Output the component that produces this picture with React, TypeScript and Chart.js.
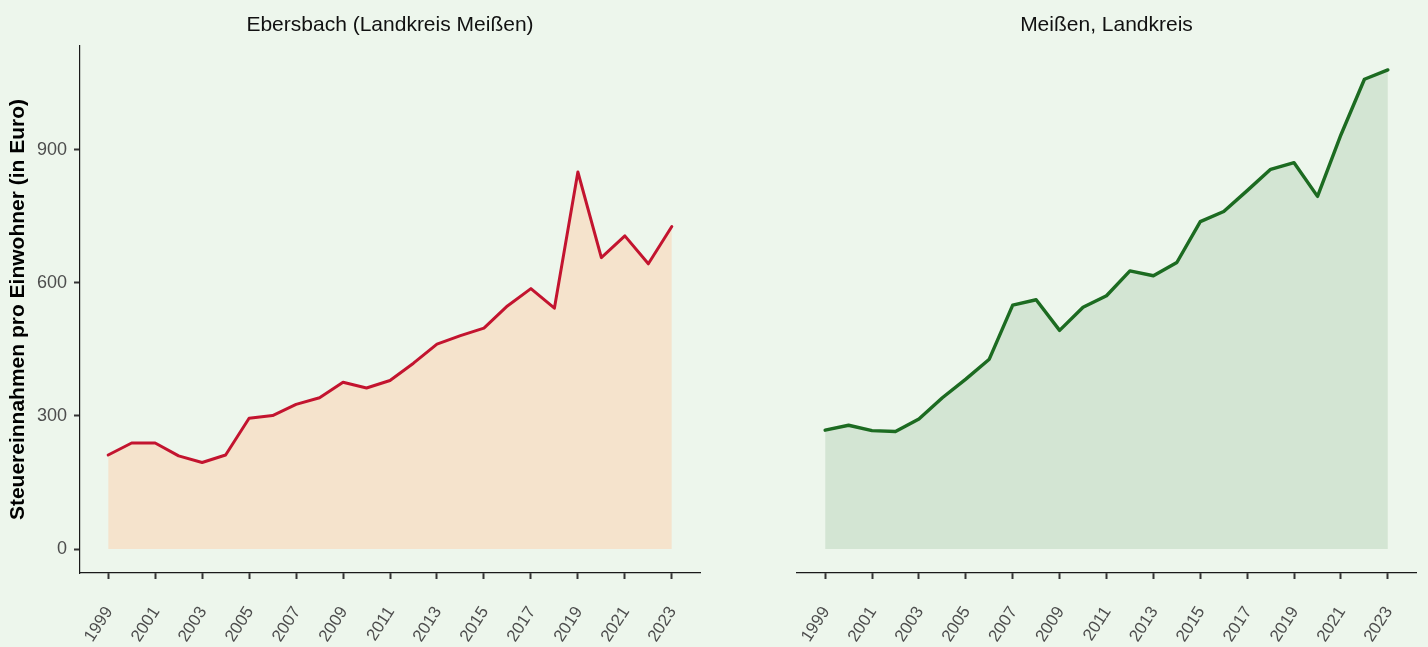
import React, { useEffect, useRef } from "react";
import { Chart, registerables } from "chart.js";

Chart.register(...registerables);

// ---------- data ----------
const years = [
  1999, 2000, 2001, 2002, 2003, 2004, 2005, 2006, 2007, 2008, 2009, 2010, 2011,
  2012, 2013, 2014, 2015, 2016, 2017, 2018, 2019, 2020, 2021, 2022, 2023,
];
const xTickLabels = [1999, 2001, 2003, 2005, 2007, 2009, 2011, 2013, 2015, 2017, 2019, 2021, 2023];
const yTickValues = [0, 300, 600, 900];

const ebersbachValues = [
  212, 239, 239, 210, 195, 212, 295, 301, 326, 341, 376, 363, 380, 419, 462, 481, 498, 548, 587,
  543, 850, 657, 706, 643, 727,
];
const meissenValues = [
  268, 279, 267, 265, 293, 341, 383, 428, 550, 562, 493, 545, 571, 627, 616, 646, 738, 761, 808,
  856, 871, 795, 934, 1059, 1080,
];

const leftTitle = "Ebersbach (Landkreis Meißen)";
const rightTitle = "Meißen, Landkreis";
const yAxisTitle = "Steuereinnahmen pro Einwohner (in Euro)";

// ---------- styling ----------
const BG = "#EDF6EC";
const FONT = "'Liberation Sans', Arial, Helvetica, sans-serif";
const X_MIN = 1997.8;
const X_MAX = 2024.2;
const Y_MIN = -54;
const Y_MAX = 1134;
const TOP_H = 46;
const BOTTOM_H = 74;
const Y_AXIS_W = 80;

type PanelOpts = {
  title: string;
  values: number[];
  line: string;
  lineWidth: number;
  fill: string;
  showY: boolean;
  padLeft: number;
  padRight: number;
};

function makeConfig(o: PanelOpts): any {
  return {
    type: "line",
    data: {
      datasets: [
        {
          xAxisID: "x",
          yAxisID: "y",
          data: years.map((y, i) => ({ x: y, y: o.values[i] })),
          borderColor: o.line,
          borderWidth: o.lineWidth,
          backgroundColor: o.fill,
          fill: "origin",
          pointRadius: 0,
          tension: 0,
          borderJoinStyle: "round",
          borderCapStyle: "round",
        },
      ],
    },
    options: {
      animation: false,
      responsive: false,
      devicePixelRatio: 1,
      layout: { padding: { left: o.padLeft, right: o.padRight, top: 0, bottom: 0 } },
      plugins: {
        legend: { display: false },
        tooltip: { enabled: false },
        title: { display: false },
      },
      scales: {
        x: {
          type: "linear",
          position: "bottom",
          min: X_MIN,
          max: X_MAX,
          afterBuildTicks: (s: any) => {
            s.ticks = xTickLabels.map((v) => ({ value: v }));
          },
          afterFit: (s: any) => {
            s.height = BOTTOM_H;
            s.paddingLeft = 0;
            s.paddingRight = 0;
          },
          ticks: {
            autoSkip: false,
            minRotation: 57,
            maxRotation: 57,
            padding: 24,
            labelOffset: 1,
            color: "#4D4D4D",
            font: { family: FONT, size: 17 },
            callback: (v: any) => String(v),
          },
          grid: {
            display: true,
            drawOnChartArea: false,
            drawTicks: true,
            tickLength: 6,
            tickWidth: 2,
            tickColor: "#333333",
          },
          border: { display: true, color: "#1A1A1A", width: 1.2 },
        },
        y: {
          type: "linear",
          position: "left",
          display: o.showY,
          min: Y_MIN,
          max: Y_MAX,
          afterBuildTicks: (s: any) => {
            s.ticks = yTickValues.map((v) => ({ value: v }));
          },
          afterFit: (s: any) => {
            s.width = o.showY ? Y_AXIS_W : 0;
            s.paddingTop = 0;
            s.paddingBottom = 0;
          },
          ticks: {
            padding: 7,
            color: "#4D4D4D",
            font: { family: FONT, size: 18 },
            callback: (v: any) => String(v),
          },
          grid: {
            display: true,
            drawOnChartArea: false,
            drawTicks: true,
            tickLength: 6,
            tickWidth: 2,
            tickColor: "#333333",
          },
          border: { display: true, color: "#1A1A1A", width: 1.2 },
          title: {
            display: true,
            text: yAxisTitle,
            color: "#000",
            font: { family: FONT, size: 21, weight: "bold" },
            padding: { top: 5.5, bottom: 0 },
          },
        },
        top: {
          type: "linear",
          position: "top",
          min: 0,
          max: 1,
          ticks: { display: false },
          grid: { display: false, drawTicks: false },
          border: { display: false },
          title: {
            display: true,
            text: o.title,
            color: "#111",
            font: { family: FONT, size: 21 },
            padding: { top: 13, bottom: 0 },
          },
          afterFit: (s: any) => {
            s.height = TOP_H;
            s.paddingLeft = 0;
            s.paddingRight = 0;
          },
        },
      },
    },
  };
}

function Panel(props: PanelOpts & { left: number; width: number }) {
  const ref = useRef<HTMLCanvasElement | null>(null);
  useEffect(() => {
    if (!ref.current) return;
    const chart = new Chart(ref.current, makeConfig(props));
    return () => chart.destroy();
  }, []);
  return (
    <canvas
      ref={ref}
      width={props.width}
      height={647}
      style={{ position: "absolute", left: props.left, top: 0, width: props.width, height: 647 }}
    />
  );
}

export default function App() {
  return (
    <div
      style={{
        position: "fixed",
        left: 0,
        top: 0,
        width: 1428,
        height: 647,
        background: BG,
        overflow: "hidden",
      }}
    >
      <Panel
        left={0}
        width={712}
        title={leftTitle}
        values={ebersbachValues}
        line="#C3142F"
        lineWidth={3}
        fill="#F5E3CC"
        showY={true}
        padLeft={0}
        padRight={12}
      />
      <Panel
        left={712}
        width={716}
        title={rightTitle}
        values={meissenValues}
        line="#1C6B21"
        lineWidth={3.4}
        fill="#D3E5D3"
        showY={false}
        padLeft={85}
        padRight={12}
      />
    </div>
  );
}
